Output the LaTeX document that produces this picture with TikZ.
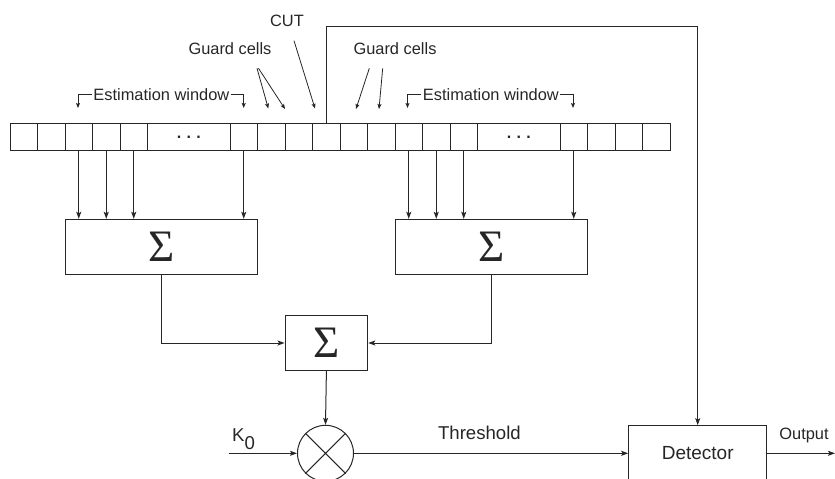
\documentclass[tikz,border=0pt]{standalone}
\usepackage{fontspec}
\setmainfont{Liberation Sans}
\newfontfamily\sigfont{Liberation Serif}
\usetikzlibrary{arrows.meta}
\definecolor{ink}{HTML}{262626}
\begin{document}
\begin{tikzpicture}[x=1pt,y=-1pt,
  line width=1pt, draw=ink,
  every node/.style={text=ink, inner sep=1pt},
  arr/.style={-{Stealth[length=7pt,width=5pt,inset=1.5pt]}},
  sarr/.style={-{Stealth[length=5pt,width=4pt,inset=1pt]}},
  cell/.style={draw, minimum width=27.5pt, minimum height=27.4pt, inner sep=0pt},
  dotcell/.style={cell, minimum width=82.5pt, font=\bfseries\fontsize{16}{18}\selectfont},
  sumbox/.style={draw, minimum height=55pt, inner sep=0pt, font=\sigfont\fontsize{45}{48}\selectfont},
  lbl/.style={font=\fontsize{16.4}{19}\selectfont, anchor=base},
  big/.style={font=\fontsize{18.6}{22}\selectfont, anchor=base}]
\useasboundingbox (0,0) rectangle (835,479);
% cells
\foreach \i in {0,1,2,3,4,8,9,10,11,12,13,14,15,16,20,21,22,23}
  \node[cell] (c\i) at ({10+27.5*(\i+0.5)},137) {};
\node[dotcell] (dL) at (188.75,137) {.\,\,.\,\,.};
\node[dotcell] (dR) at (518.75,137) {.\,\,.\,\,.};
% sum boxes
\node[sumbox, minimum width=192.7pt] (sumL) at (161.4,246.8) {Σ};
\node[sumbox, minimum width=192.7pt] (sumR) at (491.4,246.8) {Σ};
\node[sumbox, minimum width=82.7pt, minimum height=55.4pt] (sumM) at (326.4,343) {Σ};
% multiplier
\node[draw, circle, minimum size=56pt, inner sep=0pt] (mult) at (325.5,453.3) {};
\draw (mult.45) -- (mult.225) (mult.135) -- (mult.315);
% detector
\node[draw, minimum width=138pt, minimum height=55.3pt, font=\fontsize{19}{22}\selectfont] (det) at (697.7,453.3) {Detector};
% labels
\node[lbl] (cut) at (287,26.7) {CUT};
\node[lbl] (gL) at (230,54) {Guard cells};
\node[lbl] (gR) at (395,54) {Guard cells};
\node[lbl] (ewL) at (161.4,100) {Estimation window};
\node[lbl] (ewR) at (490.9,100) {Estimation window};
\node[big] (thr) at (479.4,439.3) {Threshold};
\node[lbl] (outl) at (804,439.3) {Output};
\node[anchor=base, font=\fontsize{18.6}{21}\selectfont] (k0) at (243.5,441) {K\raisebox{-8pt}{0}};
% coordinates
\coordinate (eL1) at (78,108);
\coordinate (eL2) at (243.7,108);
\coordinate (eR1) at (407.5,108);
\coordinate (eR2) at (573,108);
\coordinate (g1s) at (257,68.3);
\coordinate (g1e) at (268.3,108.5);
\coordinate (g2s) at (258.5,68.3);
\coordinate (g2e) at (285,109);
\coordinate (cuts) at (294,40.7);
\coordinate (cute) at (315,108.5);
\coordinate (g3s) at (369.3,68.3);
\coordinate (g3e) at (356,109);
\coordinate (g4s) at (382.7,68.3);
\coordinate (g4e) at (379,109);
\coordinate (top) at (0,26.7);
\coordinate (kin) at (228.5,453.3);
\coordinate (outp) at (835,453.3);
% estimation brackets
\draw[sarr] (ewL.west) -| (eL1);
\draw[sarr] (ewL.east) -| (eL2);
\draw[sarr] (ewR.west) -| (eR1);
\draw[sarr] (ewR.east) -| (eR2);
% guard / cut arrows
\draw[sarr, line width=0.8pt] (g1s) -- (g1e);
\draw[sarr, line width=0.8pt] (g2s) -- (g2e);
\draw[sarr, line width=0.8pt] (cuts) -- (cute);
\draw[sarr, line width=0.8pt] (g3s) -- (g3e);
\draw[sarr, line width=0.8pt] (g4s) -- (g4e);
% cells to sums
\foreach \c in {c2,c3,c4,c8}
  \draw[arr] (\c.south) -- (\c.south |- sumL.north);
\foreach \c in {c14,c15,c16,c20}
  \draw[arr] (\c.south) -- (\c.south |- sumR.north);
\draw[arr] (sumL.south) |- (sumM.west);
\draw[arr] (sumR.south) |- (sumM.east);
\draw[arr] (sumM.south) -- (mult.north);
\draw[arr] (kin) -- (mult.west);
\draw[arr] (mult.east) -- (det.west);
\draw[arr] (det.east) -- (outp);
% CUT feedback
\draw[arr] (c11.north) -- (c11.north |- top) -| (det.north);
\end{tikzpicture}
\end{document}
